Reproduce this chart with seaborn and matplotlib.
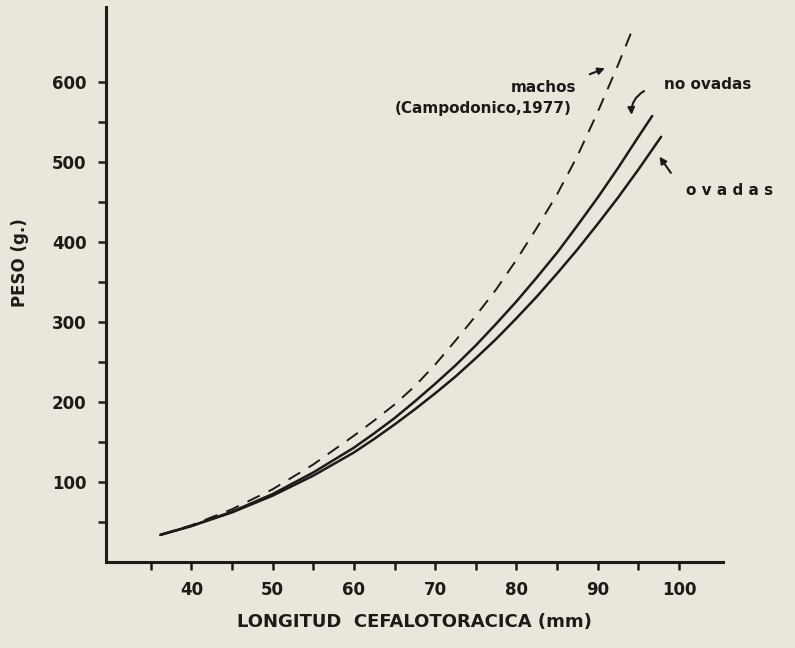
import pandas as pd
import matplotlib
matplotlib.use("Agg")
import matplotlib.pyplot as plt
import seaborn as sns

# values (longitud cefalotoracica in mm, peso in g)
long_machos = [36.2, 40, 45, 50, 55, 60, 62.5, 65, 67.5, 70, 72.5, 75, 77.5,
               80, 82.5, 85, 87.5, 90, 92.5, 94.1]
peso_machos = [34, 46, 66, 91, 122, 158, 177, 197, 220, 247, 277, 308, 341,
               378, 418, 460, 508, 563, 622, 662]

long_no_ovadas = [36.2, 40, 45, 50, 55, 60, 62.5, 65, 67.5, 70, 72.5, 75, 77.5,
                  80, 82.5, 85, 87.5, 90, 92.5, 95, 96.7]
peso_no_ovadas = [34, 45, 63, 85, 112, 143, 161, 180, 201, 223, 246, 271, 298,
                  326, 356, 387, 421, 456, 493, 532, 558]

long_ovadas = [36.2, 40, 45, 50, 55, 60, 62.5, 65, 67.5, 70, 72.5, 75, 77.5,
               80, 82.5, 85, 87.5, 90, 92.5, 95, 97.8]
peso_ovadas = [34, 45, 62, 83, 108, 137, 154, 172, 191, 211, 232, 255, 279,
               305, 332, 361, 391, 423, 456, 491, 532]

x_major = [40, 50, 60, 70, 80, 90, 100]
x_minor = [35, 45, 55, 65, 75, 85, 95]
y_major = [100, 200, 300, 400, 500, 600]
y_minor = [50, 150, 250, 350, 450, 550]

df_m = pd.DataFrame({"L": long_machos, "W": peso_machos})
df_no = pd.DataFrame({"L": long_no_ovadas, "W": peso_no_ovadas})
df_ov = pd.DataFrame({"L": long_ovadas, "W": peso_ovadas})

sns.set_style("ticks")
plt.rcParams["font.family"] = ["DejaVu Sans"]
bg = "#ebe6dc"
ink = "#1e1a18"

fig = plt.figure(figsize=(7.95, 6.48), dpi=100, facecolor=bg)
ax = fig.add_axes([0.1333, 0.1327, 0.776, 0.856])
ax.set_facecolor(bg)

sns.lineplot(data=df_m, x="L", y="W", ax=ax, color=ink, lw=1.4,
             linestyle=(0, (7, 5)))
sns.lineplot(data=df_no, x="L", y="W", ax=ax, color=ink, lw=1.8)
sns.lineplot(data=df_ov, x="L", y="W", ax=ax, color=ink, lw=1.8)

ax.set_xlim(29.5, 105.4)
ax.set_ylim(0, 694)

for s in ["top", "right"]:
    ax.spines[s].set_visible(False)
for s in ["left", "bottom"]:
    ax.spines[s].set_linewidth(2.2)
    ax.spines[s].set_color(ink)

ax.set_xticks(x_major)
ax.set_xticks(x_minor, minor=True)
ax.set_yticks(y_major)
ax.set_yticks(y_minor, minor=True)
ax.tick_params(axis="both", which="both", direction="out", color=ink, width=1.8)
ax.tick_params(axis="both", which="major", length=6, pad=8,
               labelsize=12, labelcolor=ink)
ax.tick_params(axis="both", which="minor", length=6)
for lab in ax.get_xticklabels() + ax.get_yticklabels():
    lab.set_fontweight("bold")

ax.set_xlabel("LONGITUD  CEFALOTORACICA (mm)", fontsize=13, fontweight="bold",
              color=ink, labelpad=10)
ax.set_ylabel("PESO (g.)", fontsize=12, fontweight="bold", color=ink)
ax.yaxis.set_label_coords(-0.125, 0.54)

# annotations
txt = dict(fontsize=11, fontweight="bold", color=ink)
ax.text(87.4, 594, "machos", ha="right", va="center", **txt)
ax.text(86.8, 568, "(Campodonico,1977)", ha="right", va="center", **txt)
ax.text(98.1, 598, "no ovadas", ha="left", va="center", **txt)
ax.text(100.9, 465, "o v a d a s", ha="left", va="center", **txt)

arrow = dict(arrowstyle="-|>", color=ink, lw=1.5, mutation_scale=10)
ax.annotate("", xy=(91.2, 619), xytext=(88.7, 609), arrowprops=arrow)
ax.annotate("", xy=(94.2, 556), xytext=(96.0, 591),
            arrowprops=dict(arrow, connectionstyle="arc3,rad=0.35"))
ax.annotate("", xy=(97.4, 510), xytext=(99.2, 484), arrowprops=arrow)

fig.savefig("out.png", dpi=100, facecolor=bg)
